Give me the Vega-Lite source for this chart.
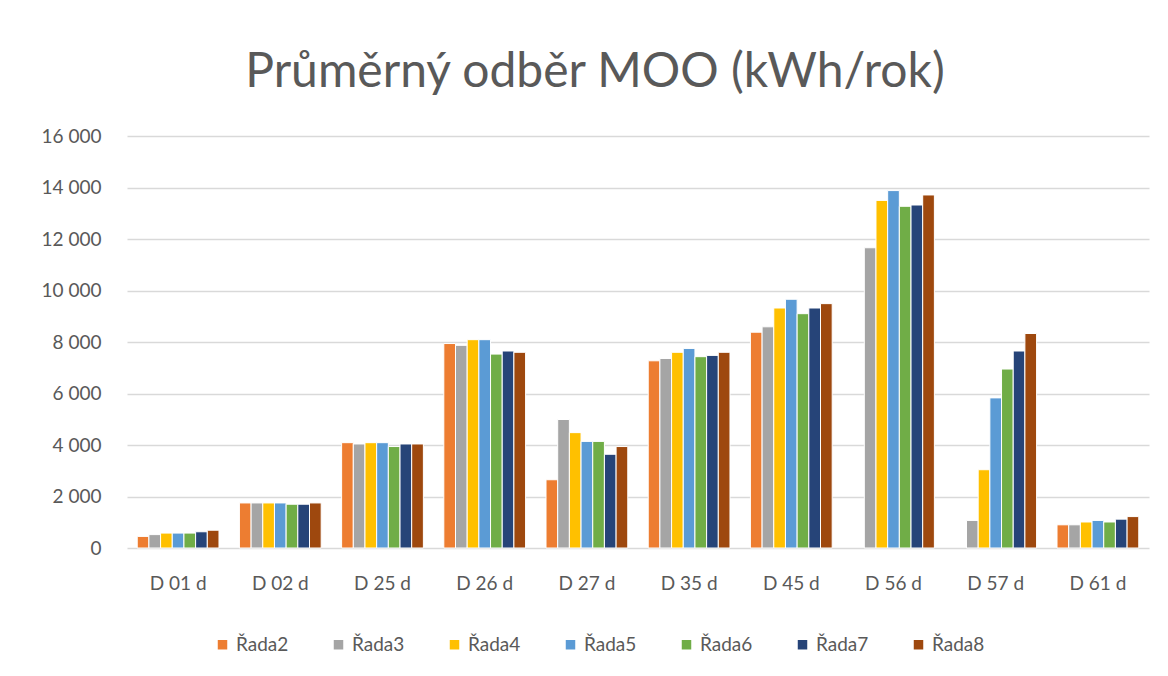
{
  "$schema": "https://vega.github.io/schema/vega-lite/v6.json",
  "width": 1022,
  "height": 412,
  "autosize": "none",
  "padding": {"left": 127, "top": 136, "right": 19, "bottom": 128},
  "background": "white",
  "title": {"text": "Průměrný odběr MOO (kWh/rok)", "fontSize": 48, "font": "Lato", "fontWeight": "normal", "color": "#595959", "anchor": "middle", "offset": 30, "dx": -43},
  "data": {"values": [
    {"cat": "D 01 d", "series": "Řada2", "value": 450},
    {"cat": "D 01 d", "series": "Řada3", "value": 520},
    {"cat": "D 01 d", "series": "Řada4", "value": 580},
    {"cat": "D 01 d", "series": "Řada5", "value": 580},
    {"cat": "D 01 d", "series": "Řada6", "value": 580},
    {"cat": "D 01 d", "series": "Řada7", "value": 630},
    {"cat": "D 01 d", "series": "Řada8", "value": 690},
    {"cat": "D 02 d", "series": "Řada2", "value": 1750},
    {"cat": "D 02 d", "series": "Řada3", "value": 1750},
    {"cat": "D 02 d", "series": "Řada4", "value": 1750},
    {"cat": "D 02 d", "series": "Řada5", "value": 1750},
    {"cat": "D 02 d", "series": "Řada6", "value": 1700},
    {"cat": "D 02 d", "series": "Řada7", "value": 1700},
    {"cat": "D 02 d", "series": "Řada8", "value": 1750},
    {"cat": "D 25 d", "series": "Řada2", "value": 4090},
    {"cat": "D 25 d", "series": "Řada3", "value": 4040},
    {"cat": "D 25 d", "series": "Řada4", "value": 4090},
    {"cat": "D 25 d", "series": "Řada5", "value": 4090},
    {"cat": "D 25 d", "series": "Řada6", "value": 3940},
    {"cat": "D 25 d", "series": "Řada7", "value": 4040},
    {"cat": "D 25 d", "series": "Řada8", "value": 4040},
    {"cat": "D 26 d", "series": "Řada2", "value": 7940},
    {"cat": "D 26 d", "series": "Řada3", "value": 7870},
    {"cat": "D 26 d", "series": "Řada4", "value": 8090},
    {"cat": "D 26 d", "series": "Řada5", "value": 8090},
    {"cat": "D 26 d", "series": "Řada6", "value": 7530},
    {"cat": "D 26 d", "series": "Řada7", "value": 7650},
    {"cat": "D 26 d", "series": "Řada8", "value": 7600},
    {"cat": "D 27 d", "series": "Řada2", "value": 2650},
    {"cat": "D 27 d", "series": "Řada3", "value": 4990},
    {"cat": "D 27 d", "series": "Řada4", "value": 4480},
    {"cat": "D 27 d", "series": "Řada5", "value": 4140},
    {"cat": "D 27 d", "series": "Řada6", "value": 4140},
    {"cat": "D 27 d", "series": "Řada7", "value": 3640},
    {"cat": "D 27 d", "series": "Řada8", "value": 3940},
    {"cat": "D 35 d", "series": "Řada2", "value": 7270},
    {"cat": "D 35 d", "series": "Řada3", "value": 7360},
    {"cat": "D 35 d", "series": "Řada4", "value": 7600},
    {"cat": "D 35 d", "series": "Řada5", "value": 7750},
    {"cat": "D 35 d", "series": "Řada6", "value": 7430},
    {"cat": "D 35 d", "series": "Řada7", "value": 7480},
    {"cat": "D 35 d", "series": "Řada8", "value": 7600},
    {"cat": "D 45 d", "series": "Řada2", "value": 8380},
    {"cat": "D 45 d", "series": "Řada3", "value": 8590},
    {"cat": "D 45 d", "series": "Řada4", "value": 9320},
    {"cat": "D 45 d", "series": "Řada5", "value": 9660},
    {"cat": "D 45 d", "series": "Řada6", "value": 9100},
    {"cat": "D 45 d", "series": "Řada7", "value": 9320},
    {"cat": "D 45 d", "series": "Řada8", "value": 9490},
    {"cat": "D 56 d", "series": "Řada3", "value": 11660},
    {"cat": "D 56 d", "series": "Řada4", "value": 13500},
    {"cat": "D 56 d", "series": "Řada5", "value": 13880},
    {"cat": "D 56 d", "series": "Řada6", "value": 13270},
    {"cat": "D 56 d", "series": "Řada7", "value": 13320},
    {"cat": "D 56 d", "series": "Řada8", "value": 13710},
    {"cat": "D 57 d", "series": "Řada3", "value": 1070},
    {"cat": "D 57 d", "series": "Řada4", "value": 3040},
    {"cat": "D 57 d", "series": "Řada5", "value": 5830},
    {"cat": "D 57 d", "series": "Řada6", "value": 6950},
    {"cat": "D 57 d", "series": "Řada7", "value": 7650},
    {"cat": "D 57 d", "series": "Řada8", "value": 8330},
    {"cat": "D 61 d", "series": "Řada2", "value": 900},
    {"cat": "D 61 d", "series": "Řada3", "value": 900},
    {"cat": "D 61 d", "series": "Řada4", "value": 1010},
    {"cat": "D 61 d", "series": "Řada5", "value": 1070},
    {"cat": "D 61 d", "series": "Řada6", "value": 1010},
    {"cat": "D 61 d", "series": "Řada7", "value": 1120},
    {"cat": "D 61 d", "series": "Řada8", "value": 1220}
  ]},
  "mark": {"type": "bar", "stroke": "white", "strokeWidth": 1},
  "encoding": {
    "x": {"field": "cat", "type": "nominal", "sort": null,
      "scale": {"paddingInner": 0.2, "paddingOuter": 0.1},
      "axis": {"title": null, "labelAngle": 0, "domain": false, "ticks": false, "labelFontSize": 19, "labelColor": "#595959", "labelFont": "Lato", "labelPadding": 26}},
    "xOffset": {"field": "series", "type": "nominal", "sort": ["Řada2", "Řada3", "Řada4", "Řada5", "Řada6", "Řada7", "Řada8"]},
    "y": {"field": "value", "type": "quantitative",
      "scale": {"domain": [0, 16000]},
      "axis": {"title": null, "values": [0, 2000, 4000, 6000, 8000, 10000, 12000, 14000, 16000], "domain": false, "ticks": false,
        "labelExpr": "replace(format(datum.value, ','), ',', ' ')",
        "labelFontSize": 19, "labelColor": "#595959", "labelFont": "Lato", "labelPadding": 26, "gridColor": "#D9D9D9", "gridWidth": 1.5}},
    "color": {"field": "series", "type": "nominal",
      "scale": {"domain": ["Řada2", "Řada3", "Řada4", "Řada5", "Řada6", "Řada7", "Řada8"],
        "range": ["#ED7D31", "#A5A5A5", "#FFC000", "#5B9BD5", "#70AD47", "#264478", "#9E480E"]},
      "legend": {"title": null, "orient": "none", "legendX": 86, "legendY": 499, "direction": "horizontal", "symbolType": "square", "symbolSize": 90, "symbolStrokeWidth": 0,
        "labelFontSize": 19, "labelColor": "#595959", "labelFont": "Lato", "columnPadding": 40}}
  },
  "config": {"view": {"stroke": null}}
}
